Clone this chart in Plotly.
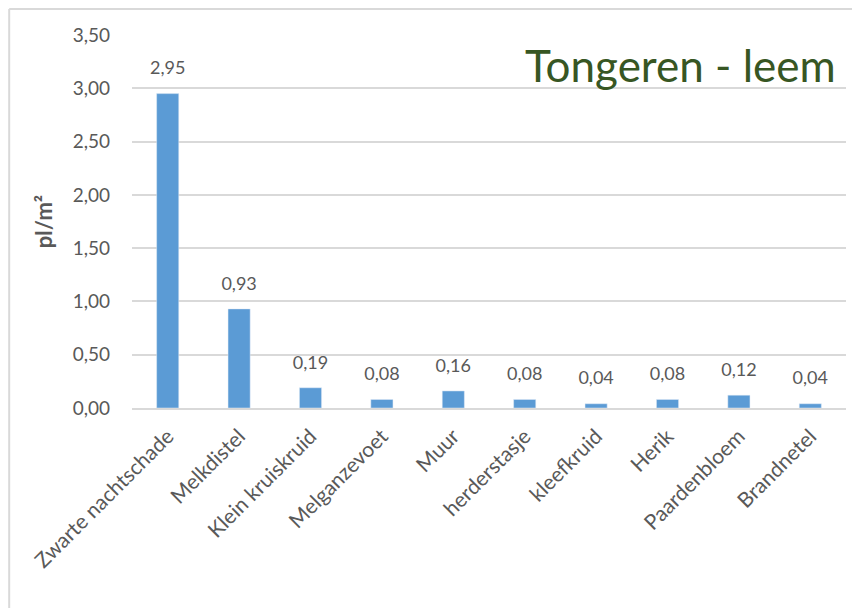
import plotly.graph_objects as go

species = [
    "Zwarte nachtschade", "Melkdistel", "Klein kruiskruid", "Melganzevoet",
    "Muur", "herderstasje", "kleefkruid", "Herik", "Paardenbloem", "Brandnetel",
]
density = [2.95, 0.93, 0.19, 0.08, 0.16, 0.08, 0.04, 0.08, 0.12, 0.04]
y_ticks = [0, 0.5, 1.0, 1.5, 2.0, 2.5, 3.0, 3.5]

FONT = "Lato, Open Sans, sans-serif"
GREY = "#595959"

fig = go.Figure()
fig.add_trace(
    go.Bar(
        x=species,
        y=density,
        marker_color="#5B9BD5",
        hoverinfo="skip",
    )
)
# value labels, lifted a bit above the bars like in the original chart
fig.add_trace(
    go.Scatter(
        x=species,
        y=density,
        mode="markers+text",
        marker=dict(size=22, opacity=0),
        texttemplate="%{y:.2f}",
        textposition="top center",
        textfont=dict(size=18, color=GREY, family=FONT),
        cliponaxis=False,
        hoverinfo="skip",
    )
)

# the page adds an 8px body margin, so margins are trimmed to compensate
fig.update_layout(
    width=860,
    height=608,
    paper_bgcolor="white",
    plot_bgcolor="white",
    separators=",.",
    bargap=0.69,
    showlegend=False,
    margin=dict(l=124, r=22, t=27, b=208),
    font=dict(family=FONT, color=GREY, size=18),
    yaxis=dict(
        range=[0, 3.5],
        tickvals=y_ticks,
        tickformat=".2f",
        showgrid=True,
        gridcolor="#D9D9D9",
        gridwidth=1.5,
        zeroline=False,
        showline=False,
        automargin=False,
        ticklabelstandoff=21,
        tickfont=dict(size=19, color=GREY),
        title=dict(text="<b>pl/m²</b>", font=dict(size=22, color=GREY), standoff=13),
    ),
    xaxis=dict(
        range=[-0.5, len(species) - 0.5],
        tickangle=-45,
        showline=True,
        linecolor="#D9D9D9",
        linewidth=1.5,
        showgrid=False,
        automargin=False,
        ticklabelstandoff=6,
        tickfont=dict(size=21, color=GREY),
    ),
    annotations=[
        dict(
            text="Tongeren - leem",
            xref="paper", yref="paper",
            x=0.989, y=0.919,
            xanchor="right", yanchor="middle",
            showarrow=False,
            font=dict(size=44, color="#375623", family=FONT),
        )
    ],
    shapes=[
        dict(type="line", xref="paper", yref="paper",
             x0=-0.172, x1=-0.172, y0=1.07, y1=-0.56,
             line=dict(color="#D9D9D9", width=2)),
        dict(type="line", xref="paper", yref="paper",
             x0=-0.172, x1=1.04, y0=1.07, y1=1.07,
             line=dict(color="#D9D9D9", width=2)),
    ],
)

fig.write_html("out.html")
